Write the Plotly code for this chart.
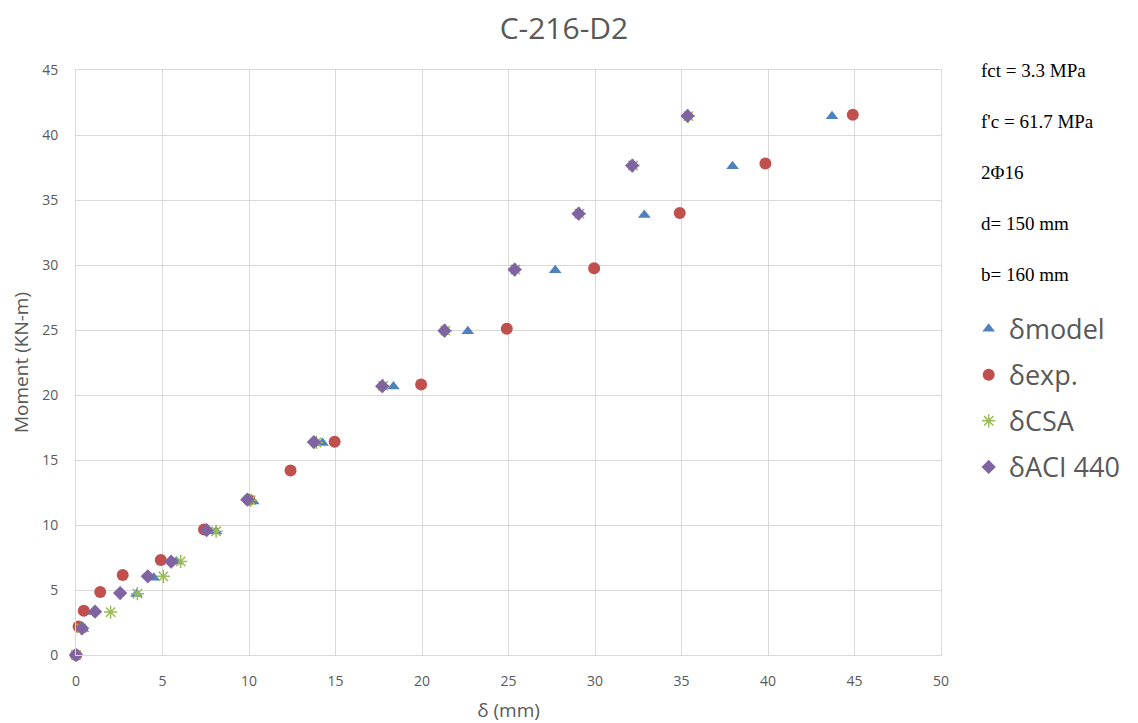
import plotly.graph_objects as go

# δ (mm) and Moment (kN-m) per series
model_x = [0, 0.4, 0.6, 3.5, 4.5, 5.8, 8.1, 10.25, 14.25, 18.35, 22.65, 27.7, 32.85, 37.95, 43.7]
model_y = [0, 2.0, 3.3, 4.7, 5.95, 7.2, 9.5, 11.8, 16.3, 20.65, 24.9, 29.6, 33.85, 37.6, 41.45]

exp_x = [0, 0.15, 0.45, 1.4, 2.7, 4.9, 7.4, 10.0, 12.4, 14.95, 19.95, 24.9, 29.95, 34.9, 39.85, 44.9]
exp_y = [0, 2.2, 3.4, 4.85, 6.15, 7.3, 9.65, 11.95, 14.2, 16.4, 20.8, 25.1, 29.75, 34.0, 37.8, 41.55]

csa_x = [0, 0.3, 2.0, 3.55, 5.05, 6.05, 8.1, 10.1, 13.9, 17.75, 21.35, 25.4, 29.1, 32.2, 35.4]
csa_y = [0, 2.05, 3.3, 4.72, 6.05, 7.2, 9.52, 11.9, 16.35, 20.7, 24.95, 29.65, 33.95, 37.65, 41.45]

aci_x = [0, 0.35, 1.1, 2.55, 4.15, 5.5, 7.55, 9.9, 13.75, 17.7, 21.3, 25.35, 29.05, 32.15, 35.35]
aci_y = [0, 2.05, 3.33, 4.76, 6.05, 7.18, 9.6, 11.95, 16.38, 20.68, 24.95, 29.65, 33.95, 37.65, 41.47]

series_names = ["δmodel", "δexp.", "δCSA", "δACI 440"]
notes = ["fct = 3.3 MPa", "f'c = 61.7 MPa", "2Φ16", "d= 150 mm", "b= 160 mm"]

x_ticks = list(range(0, 51, 5))
y_ticks = list(range(0, 46, 5))

GRID = "#D9D9D9"
TXT = "#595959"
FONT = "Open Sans"

fig = go.Figure()
fig.add_trace(go.Scatter(x=model_x, y=model_y, mode="markers", name=series_names[0],
                         legendgroup="a", cliponaxis=False,
                         marker=dict(symbol="triangle-up", size=11, color="#4F81BD",
                                     line=dict(width=0))))
fig.add_trace(go.Scatter(x=exp_x, y=exp_y, mode="markers", name=series_names[1],
                         legendgroup="b", cliponaxis=False,
                         marker=dict(symbol="circle", size=12, color="#C0504D",
                                     line=dict(width=0))))
fig.add_trace(go.Scatter(x=csa_x, y=csa_y, mode="markers", name=series_names[2],
                         legendgroup="c", cliponaxis=False,
                         marker=dict(symbol="asterisk-open", size=11, color="#9BBB59",
                                     line=dict(width=1.5, color="#9BBB59"))))
fig.add_trace(go.Scatter(x=aci_x, y=aci_y, mode="markers", name=series_names[3],
                         legendgroup="d", cliponaxis=False,
                         marker=dict(symbol="diamond", size=11, color="#8064A2",
                                     line=dict(width=0))))

for i, t in enumerate(notes):
    fig.add_annotation(text=t, xref="paper", yref="paper",
                       x=1.044, y=1.0 - i * 0.0875, xanchor="left", yanchor="middle",
                       showarrow=False,
                       font=dict(family="Liberation Serif", size=19, color="#000000"))

fig.update_layout(
    width=1130, height=715,
    paper_bgcolor="white", plot_bgcolor="white",
    margin=dict(l=68, r=195, t=62, b=68),
    title=dict(text="C-216-D2", x=0.492, xanchor="center", y=0.972, yanchor="middle",
               font=dict(family=FONT, size=30, color=TXT)),
    font=dict(family=FONT, color=TXT),
    showlegend=True,
    legend=dict(x=1.032, y=0.599, xanchor="left", yanchor="top",
                font=dict(family=FONT, size=27, color=TXT),
                tracegroupgap=8, bgcolor="rgba(0,0,0,0)", itemsizing="trace"),
)
fig.update_xaxes(range=[0, 50], tickvals=x_ticks, showgrid=True, gridcolor=GRID, gridwidth=1,
                 zeroline=False, showline=True, linecolor=GRID, mirror=True,
                 ticks="", ticklabelstandoff=13, automargin=False,
                 tickfont=dict(family=FONT, size=14, color=TXT),
                 title=dict(text="δ (mm)", font=dict(family=FONT, size=19, color=TXT), standoff=15))
fig.update_yaxes(range=[0, 45], tickvals=y_ticks, showgrid=True, gridcolor=GRID, gridwidth=1,
                 zeroline=False, showline=True, linecolor=GRID, mirror=True,
                 ticks="", ticklabelstandoff=14, automargin=False,
                 tickfont=dict(family=FONT, size=14, color=TXT),
                 title=dict(text="Moment (KN-m)", font=dict(family=FONT, size=19, color=TXT), standoff=12))

fig.write_html("out.html")
